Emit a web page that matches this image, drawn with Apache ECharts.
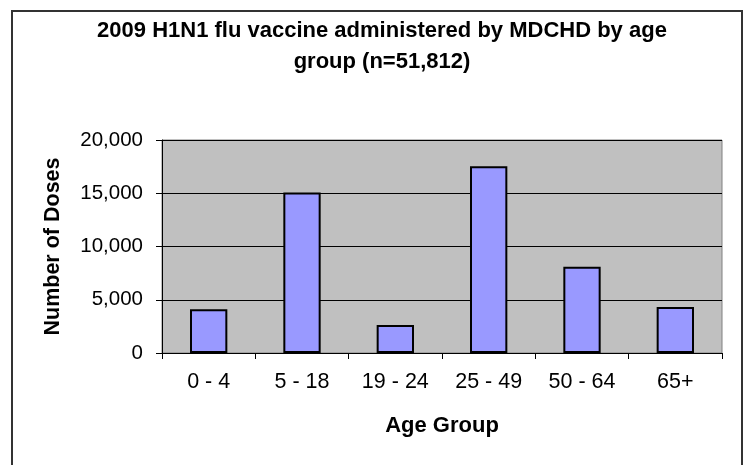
<!DOCTYPE html>
<html><head><meta charset="utf-8">
<script src="https://cdn.jsdelivr.net/npm/echarts@6/dist/echarts.min.js"></script>
<style>html,body{margin:0;padding:0;background:#fff}#c{width:745px;height:465px}</style>
</head><body><div id="c"></div>
<script>
const categories = ['0 - 4', '5 - 18', '19 - 24', '25 - 49', '50 - 64', '65+'];
const doses = [4110, 15080, 2640, 17540, 8110, 4330];
const yTicks = [0, 5000, 10000, 15000, 20000];

const chart = echarts.init(document.getElementById('c'));
const font = '"Liberation Sans", Arial, sans-serif';
chart.setOption({
  animation: false,
  textStyle: { fontFamily: font },
  title: {
    text: '2009 H1N1 flu vaccine administered by MDCHD by age\ngroup (n=51,812)',
    left: 377, top: 10, textAlign: 'center',
    textStyle: { fontFamily: font, fontSize: 22, fontWeight: 'bold', color: '#000', lineHeight: 31 }
  },
  graphic: [{
    type: 'rect', shape: { x: 12, y: 11, width: 730, height: 470 },
    style: { fill: 'none', stroke: '#333', lineWidth: 2 }, silent: true, z: -10
  }],
  grid: {
    left: 162, right: 23, top: 140, bottom: 112,
    show: true, backgroundColor: '#C0C0C0', borderColor: '#808080', borderWidth: 1
  },
  xAxis: {
    type: 'category', data: categories,
    name: 'Age Group', nameLocation: 'middle', nameGap: 62,
    nameTextStyle: { fontFamily: font, fontSize: 22, fontWeight: 'bold', color: '#000' },
    axisLine: { lineStyle: { color: '#000', width: 1 } },
    axisTick: { show: true, alignWithLabel: false, length: 6, lineStyle: { color: '#000' } },
    axisLabel: { margin: 18, fontSize: 21.5, color: '#000', fontFamily: font }
  },
  yAxis: {
    type: 'value', min: yTicks[0], max: yTicks[yTicks.length - 1], interval: 5000,
    name: 'Number of Doses', nameLocation: 'middle', nameGap: 98, nameRotate: 90,
    nameTextStyle: { fontFamily: font, fontSize: 21.5, fontWeight: 'bold', color: '#000' },
    axisLine: { show: true, lineStyle: { color: '#000', width: 1 } },
    axisTick: { show: true, length: 6, lineStyle: { color: '#000' } },
    axisLabel: { margin: 19, fontSize: 20.5, color: '#000', fontFamily: font,
      formatter: v => v.toLocaleString('en-US') },
    splitLine: { show: true, lineStyle: { color: '#000', width: 1 } }
  },
  series: [{
    type: 'bar', data: doses, barWidth: '40%',
    itemStyle: { color: '#9999FF', borderColor: '#000', borderWidth: 2 }
  }]
});
</script></body></html>
